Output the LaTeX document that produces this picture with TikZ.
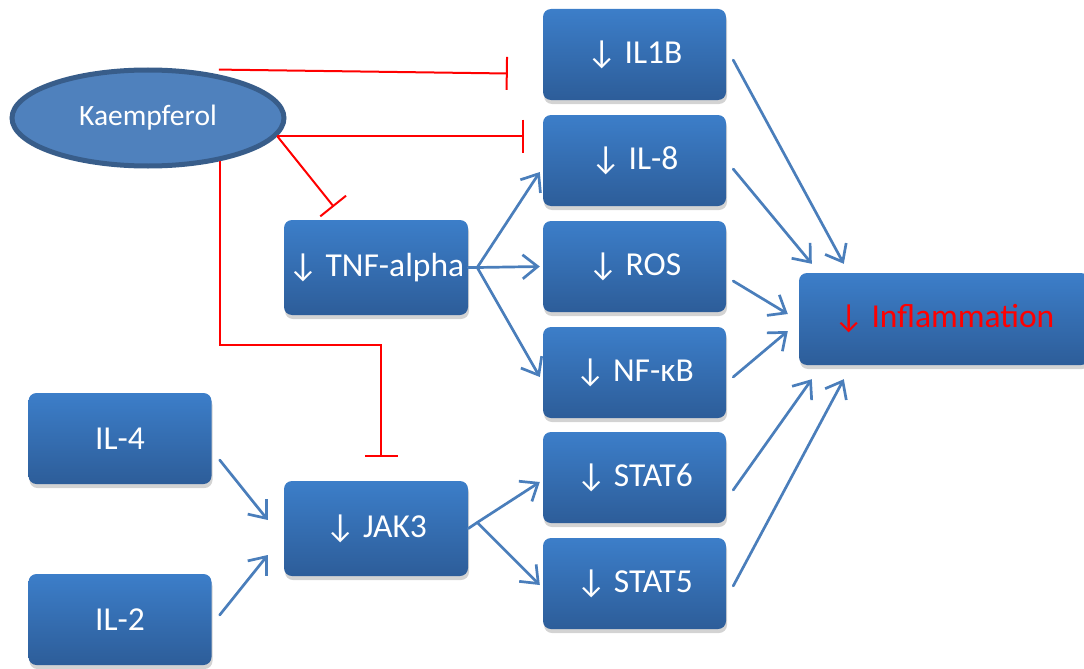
\documentclass[tikz,border=0pt]{standalone}
\usepackage{fontspec}
\setmainfont{Carlito}
\usetikzlibrary{arrows.meta,shapes.geometric,shadows,calc}
\definecolor{boxtop}{HTML}{3C7EC9}
\definecolor{boxbot}{HTML}{2D5D99}
\definecolor{ellfill}{HTML}{4F81BD}
\definecolor{elldraw}{HTML}{385D8A}
\definecolor{arrowblue}{HTML}{4A7EBB}
\tikzset{
  box/.style={rectangle, rounded corners=8pt, top color=boxtop, bottom color=boxbot,
    minimum width=183pt, minimum height=91pt, text=white, inner sep=0pt,
    font=\fontsize{33.5}{40}\selectfont,
    drop shadow={opacity=0.35, shadow xshift=1pt, shadow yshift=-4pt}},
  act/.style={draw=arrowblue, line width=2.7pt, line cap=round,
    -{Straight Barb[length=15pt,width=24pt,line width=2.7pt]}},
  inh/.style={draw=red, line width=2pt, -{Bar[width=33pt,line width=2pt]}},
}
\begin{document}
\begin{tikzpicture}[x=1pt,y=-1pt]
\useasboundingbox (0,0) rectangle (1084,669);
% nodes
\node[ellipse, fill=ellfill, draw=elldraw, line width=5pt, minimum width=272pt, minimum height=96pt,
  text=white, font=\fontsize{29.5}{34}\selectfont] (k) at (148,118) {Kaempferol};
\node[box] (il1b) at (634.5,54.5) {↓ IL1B};
\node[box] (il8) at (634.5,160.5) {↓ IL-8};
\node[box] (ros) at (634.5,266.5) {↓ ROS};
\node[box] (nfkb) at (634.5,372.5) {↓ NF-κB};
\node[box] (stat6) at (634.5,477.5) {↓ STAT6};
\node[box] (stat5) at (634.5,583.5) {↓ STAT5};
\node[box, minimum width=184pt, minimum height=95pt] (tnf) at (376,267.5) {↓ TNF-alpha};
\node[box, minimum width=184pt, minimum height=95pt] (jak3) at (376,528.5) {↓ JAK3};
\node[box] (il4) at (120,438.5) {IL-4};
\node[box] (il2) at (120,619.5) {IL-2};
\node[box, minimum width=290pt, minimum height=92pt, text=red] (infl) at (944,319) {↓ Inflammation};
% inhibition coordinates
\coordinate (b1) at ([xshift=-35pt,yshift=-19pt]il1b.west);
\coordinate (b2) at ([xshift=-19pt]il8.west |- k.-8);
\coordinate (b3) at ([xshift=50pt,yshift=13pt]tnf.north west);
\coordinate (c4a) at (k.-31 |- 0,345);
\coordinate (c4b) at ([xshift=5pt]jak3.north |- 0,345);
\coordinate (b4) at ([xshift=5pt,yshift=24pt]jak3.north);
% inhibition lines
\draw[inh] ([xshift=5pt,yshift=4pt]k.34) -- (b1);
\draw[inh] (k.-8) -- (b2);
\draw[inh] (k.-8) -- (b3);
\draw[inh] (k.-31) -- (c4a) -- (c4b) -- (b4);
% activation arrows
\coordinate (tnfa) at ([xshift=9pt]tnf.east);
\coordinate (jaka) at ([xshift=9pt,yshift=6pt]jak3.east);
\draw[act] (tnf.east) -- (tnfa) -- ([xshift=-3pt,yshift=-11.5pt]il8.west);
\draw[act] (tnfa) -- ([xshift=-3pt]ros.west);
\draw[act] (tnfa) -- ([xshift=-3pt,yshift=-4.5pt]nfkb.west);
\draw[act] (jak3.east) -- (jaka) -- ([xshift=-3pt,yshift=-4.5pt]stat6.west);
\draw[act] (jaka) -- ([xshift=-3pt,yshift=-1.5pt]stat5.west);
\draw[act] ([xshift=8pt,yshift=-21.5pt]il4.east) -- ([xshift=-16pt,yshift=8.5pt]jak3.west);
\draw[act] ([xshift=8pt,yshift=4.5pt]il2.east) -- ([xshift=-16pt,yshift=-26.5pt]jak3.west);
% to inflammation
\draw[act] ([xshift=7pt,yshift=-5.5pt]il1b.east) -- ([xshift=45pt,yshift=9pt]infl.north west);
\draw[act] ([xshift=7pt,yshift=-8.5pt]il8.east) -- ([xshift=13pt,yshift=9pt]infl.north west);
\draw[act] ([xshift=7pt,yshift=-14.5pt]ros.east) -- ([xshift=-11pt,yshift=5pt]infl.west);
\draw[act] ([xshift=7pt,yshift=-4.5pt]nfkb.east) -- ([xshift=-11pt,yshift=-12pt]infl.west);
\draw[act] ([xshift=7pt,yshift=-12.5pt]stat6.east) -- ([xshift=13pt,yshift=-14pt]infl.south west);
\draw[act] ([xshift=7pt,yshift=-2.5pt]stat5.east) -- ([xshift=45pt,yshift=-14pt]infl.south west);
\end{tikzpicture}
\end{document}
